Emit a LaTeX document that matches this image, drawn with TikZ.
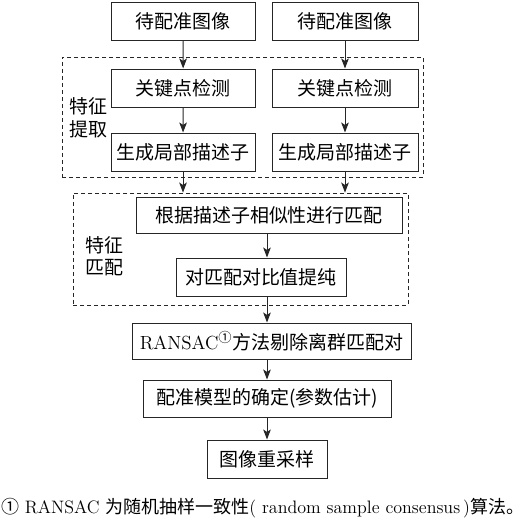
\documentclass[tikz,border=0pt]{standalone}
\usepackage{fontspec}
\newfontfamily\cjk{Noto Sans CJK SC}
\usepackage{tikz}
\usetikzlibrary{arrows.meta,positioning}

\begin{document}
\begin{tikzpicture}[
    font=\fontsize{13.5}{17}\selectfont\cjk,
    >={Stealth[length=2.5mm,width=1.9mm,inset=0.6mm]},
    stepbox/.style={draw=black!85,line width=0.7pt,inner sep=0pt,minimum width=#1,minimum height=0.95cm,align=center},
    group/.style={draw=black!85,line width=0.6pt,dash pattern=on 1mm off 0.75mm,inner sep=0pt},
    grouplabel/.style={align=center,font=\fontsize{13.5}{16}\selectfont\cjk},
    note/.style={anchor=west,inner sep=0pt,font=\fontsize{12.8}{15}\selectfont},
    flow/.style={->,line width=0.7pt,draw=black!85}
  ]
    \useasboundingbox (0,0) rectangle (13.075,-13.075);

    \node[group,minimum width=9.025cm,minimum height=3cm] (extract) at (6.0625,-2.925) {};
    \node[grouplabel] (extractlabel) at (2.2,-2.95) {特征\\提取};
    \node[group,minimum width=8.375cm,minimum height=2.8cm] (matching) at (6.0125,-6.225) {};
    \node[grouplabel] (matchinglabel) at (2.6,-6.4) {特征\\匹配};

    \node[stepbox=3.6cm] (imgA) at (4.575,-0.5375) {待配准图像};
    \node[stepbox=3.65cm] (imgB) at (8.625,-0.5375) {待配准图像};
    \node[stepbox=3.6cm] (kpA) at (4.58,-2.2) {关键点检测};
    \node[stepbox=3.65cm] (kpB) at (8.625,-2.2) {关键点检测};
    \node[stepbox=3.6cm] (descA) at (4.575,-3.8) {生成局部描述子};
    \node[stepbox=3.65cm] (descB) at (8.625,-3.8) {生成局部描述子};

    \node[stepbox=6.65cm,minimum height=0.9cm] (similar) at (6.725,-5.375) {根据描述子相似性进行匹配};
    \node[stepbox=4.25cm] (purify) at (6.525,-6.925) {对匹配对比值提纯};
    \node[stepbox=6.975cm,minimum height=0.9cm] (ransac) at (6.7875,-8.525)
      {\rmfamily RANSAC\textsuperscript{\cjk ①}{\cjk 方法剔除离群匹配对}};
    \node[stepbox=6.2cm,minimum height=0.925cm] (model) at (6.675,-9.9625) {配准模型的确定(参数估计)};
    \node[stepbox=3cm] (resample) at (6.675,-11.475) {图像重采样};

    \node[note] (footnote) at (0.02,-12.7)
      {{\cjk ①} RANSAC {\cjk 为随机抽样一致性}( random sample consensus\,){\cjk 算法。}};

    \draw[flow] (imgA) -- (kpA);
    \draw[flow] (imgB) -- (kpB);
    \draw[flow] (kpA) -- (descA);
    \draw[flow] (kpB) -- (descB);
    \draw[flow] (descA.south) -- (descA.south |- matching.north);
    \draw[flow] (descB.south) -- (descB.south |- matching.north);
    \draw[flow] (similar.south -| model.center) -- (purify.north -| model.center);
    \draw[flow] (purify.south -| model.center) -- (ransac.north -| model.center);
    \draw[flow] (ransac.south -| model.center) -- (model.north);
    \draw[flow] (model) -- (resample);
\end{tikzpicture}
\end{document}
